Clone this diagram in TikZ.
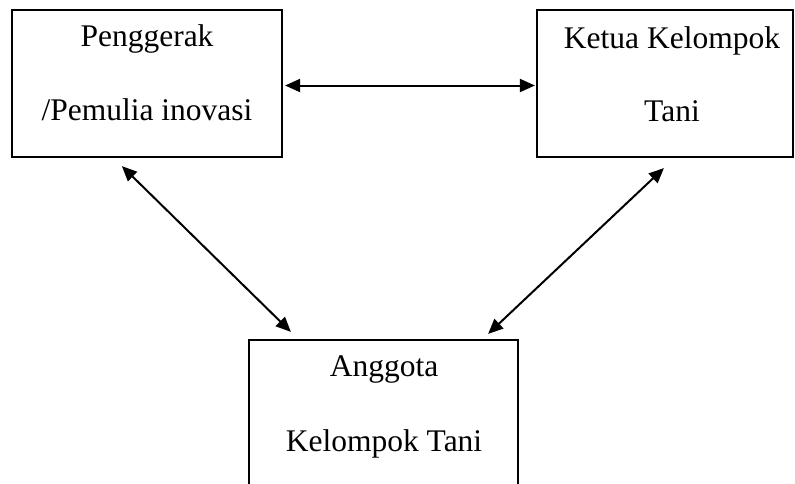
\documentclass[tikz,border=0pt]{standalone}
\usepackage{fontspec}
\setmainfont{Liberation Serif}
\usetikzlibrary{arrows.meta,calc}
\begin{document}
\begin{tikzpicture}[x=1pt,y=-1pt,
  box/.style={draw, line width=2.2pt, inner sep=0pt},
  lbl/.style={anchor=base, inner sep=0pt, font=\fontsize{31.5}{36}\selectfont},
  link/.style={line width=2pt, {Triangle[length=15pt,width=13pt]}-{Triangle[length=15pt,width=13pt]}}]
\useasboundingbox (0,0) rectangle (795,483);
\clip (0,0) rectangle (795,483);
\node[box, minimum width=270pt, minimum height=147pt] (b1) at (147,83.5) {};
\node[box, minimum width=256pt, minimum height=147pt] (b2) at (665,83.5) {};
\node[box, minimum width=269pt, minimum height=180pt] (b3) at (383.5,430) {};
\node[lbl] (t1a) at ($(b1.north)+(0,38)$) {Penggerak};
\node[lbl] (t1b) at ($(b1.north)+(0,112)$) {/Pemulia inovasi};
\node[lbl] (t2a) at ($(b2.north)+(7,40)$) {Ketua Kelompok};
\node[lbl] (t2b) at ($(b2.north)+(7,113)$) {Tani};
\node[lbl] (t3a) at ($(b3.north)+(0.5,38)$) {Anggota};
\node[lbl] (t3b) at ($(b3.north)+(0.5,113)$) {Kelompok Tani};
\draw[link] ($(b1.east)+(2,2)$) -- ($(b2.west)+(-1,2)$);
\draw[link] ($(b1.south west)+(111,8)$) -- ($(b3.north west)+(43,-7)$);
\draw[link] ($(b2.south west)+(128,10)$) -- ($(b3.north east)+(-31,-5)$);
\end{tikzpicture}
\end{document}
